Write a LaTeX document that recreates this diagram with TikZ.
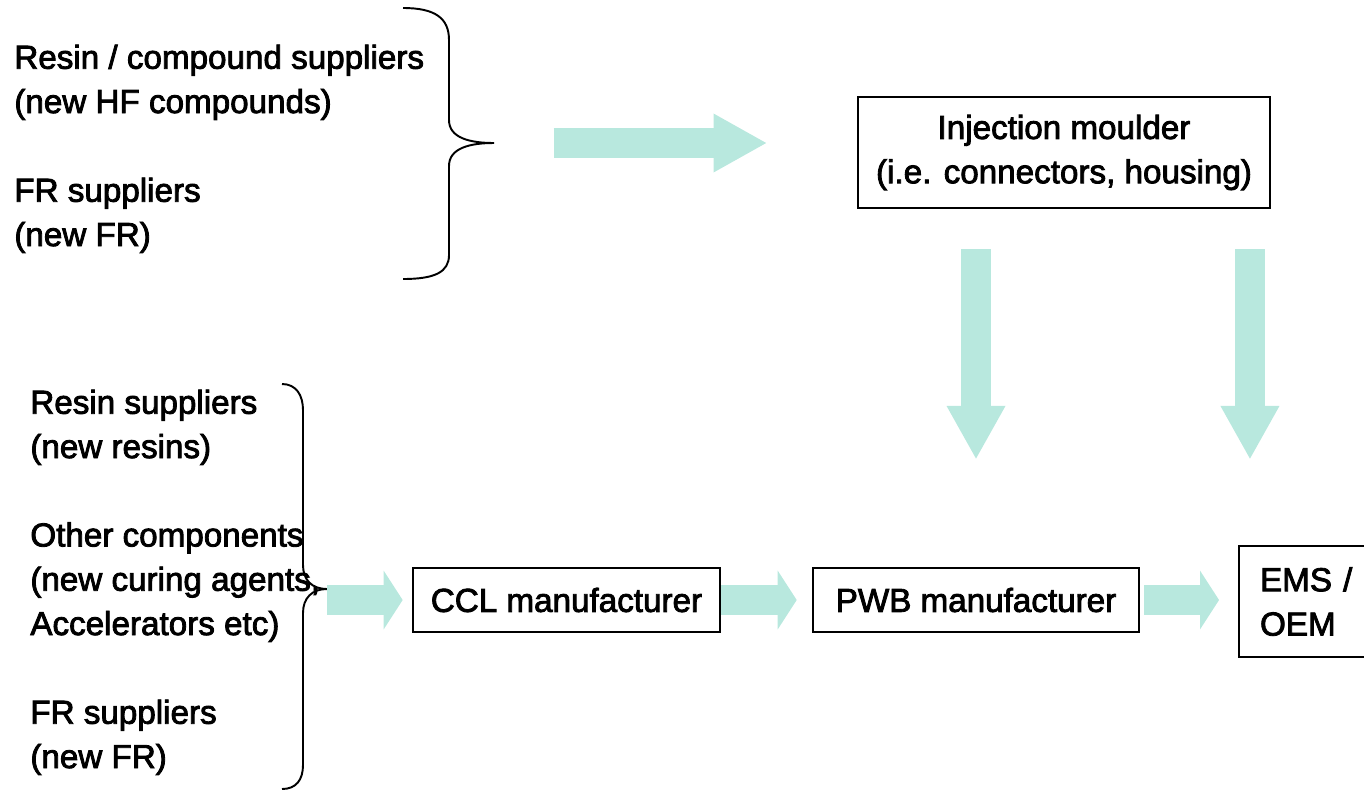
\documentclass[tikz,border=0pt]{standalone}
\usepackage{fontspec}
\setmainfont{Liberation Sans}
\newfontfamily\heavyfont{Liberation Sans}[FakeBold=2.5]
\usepackage{xcolor}
\usepackage{tikz}
\usetikzlibrary{positioning, arrows.meta}
\definecolor{mint}{RGB}{184, 232, 222}

\begin{document}
\begin{tikzpicture}[
    x=0.02cm, y=-0.02cm,
    txt/.style={anchor=base west, align=left, inner sep=0pt, font=\heavyfont\fontsize{18.9pt}{25.2pt}\selectfont},
    box/.style={rectangle, draw=black, line width=1.1pt, align=center, inner sep=0pt, font=\heavyfont\fontsize{18.9pt}{25.2pt}\selectfont},
    brace/.style={draw=black, line width=1.1pt},
    flow/.style={draw=mint, line width=17pt, -{Triangle[length=30pt, width=33.6pt, line width=0pt]}},
    shortflow/.style={draw=mint, line width=17pt, -{Triangle[length=10.8pt, width=33.4pt, line width=0pt]}}
]
    \useasboundingbox (0,0) rectangle (1364,792);

    % suppliers (placed at the baseline of their last line)
    \node[txt] (resincmp) at (14,113) {Resin / compound suppliers\\(new HF compounds)};
    \node[txt] (frtop) at (14,246) {FR suppliers\\(new FR)};
    \node[txt] (resin) at (30,458) {Resin suppliers\\(new resins)};
    \node[txt] (other) at (30,635) {Other components\\(new curing agents,\\Accelerators etc)};
    \node[txt] (frlow) at (30,768) {FR suppliers\\(new FR)};

    % chain
    \node[box, minimum width=234.7pt, minimum height=62.9pt] (moulder) at (1064,152.5) {Injection moulder\\(i.e. connectors, housing)};
    \node[box, minimum width=175.2pt, minimum height=36.3pt] (ccl) at (566.5,600) {CCL manufacturer};
    \node[box, minimum width=186pt, minimum height=36.3pt] (pwb) at (976,600) {PWB manufacturer};
    \node[box, anchor=west, text width=68pt, align=left, inner xsep=12pt, minimum height=62.9pt] (ems) at (1238,601.5) {EMS /\\OEM};

    % braces
    \coordinate (toptip) at (494,143);
    \coordinate (lowtip) at (327,589);
    \draw[brace] (403,8) .. controls (435,8) and (449,18) .. (449,40) -- (449,120)
        .. controls (449,138) and (470,143) .. (toptip)
        .. controls (470,143) and (449,148) .. (449,166) -- (449,255)
        .. controls (449,272) and (435,279) .. (403,279);
    \draw[brace] (282,384) .. controls (296,384) and (303,395) .. (303,410) -- (303,565)
        .. controls (303,580) and (312,589) .. (lowtip)
        .. controls (312,589) and (303,598) .. (303,613) -- (303,765)
        .. controls (303,780) and (296,789) .. (282,789);

    % arrows
    \coordinate (emsin) at ([xshift=6.8pt]ems.north west);
    \draw[flow, shorten <=34pt, shorten >=51.6pt] (toptip) -- (toptip -| moulder.west);
    \draw[flow, shorten <=23.2pt, shorten >=61.8pt] (pwb.north |- moulder.south) -- (pwb.north);
    \draw[flow, shorten <=23.2pt, shorten >=49.3pt] (emsin |- moulder.south) -- (emsin);
    \draw[shortflow, shorten >=5.1pt] (lowtip |- ccl.west) -- (ccl.west);
    \draw[shortflow, shorten >=8.5pt] (ccl.east) -- (pwb.west);
    \draw[shortflow, shorten <=2.3pt, shorten >=10.8pt] (pwb.east) -- (pwb.east -| ems.west);
\end{tikzpicture}
\end{document}
